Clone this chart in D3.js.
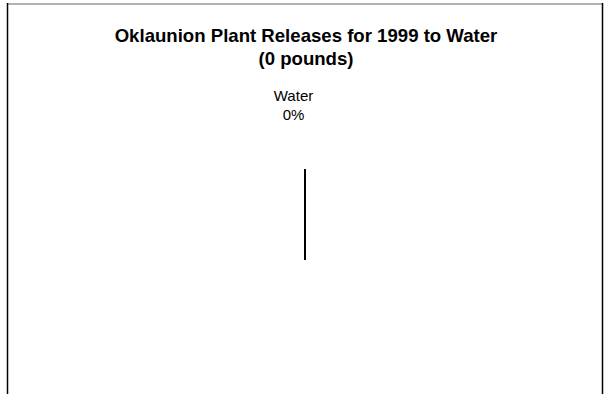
<!DOCTYPE html>
<html>
<head>
<meta charset="utf-8">
<script src="https://cdn.jsdelivr.net/npm/d3@7"></script>
<style>
  body { margin: 0; background: white; }
  text { font-family: "Liberation Sans", Arial, sans-serif; }
</style>
</head>
<body>
<script>
const categories = ['Water'];
const values = [0];
const pctLabels = ['0%'];
const titleLines = ['Oklaunion Plant Releases for 1999 to Water', '(0 pounds)'];

function main(){
    var width = 605;
    var height = 394;

    let svg = d3.select('body')
        .append('svg')
        .attr('width', width)
        .attr('height', height)
        .style('background-color', 'white');

    // frame: gray top, black sides
    svg.append('line')
        .attr('x1', 7).attr('x2', 603).attr('y1', 4).attr('y2', 4)
        .attr('stroke', '#999').attr('stroke-width', 1.5);
    svg.append('line')
        .attr('x1', 7.5).attr('x2', 7.5).attr('y1', 3).attr('y2', height)
        .attr('stroke', '#000').attr('stroke-width', 1.5);
    svg.append('line')
        .attr('x1', 602.5).attr('x2', 602.5).attr('y1', 3).attr('y2', height)
        .attr('stroke', '#000').attr('stroke-width', 1.5);

    svg.selectAll('.title')
        .data(titleLines)
        .enter()
        .append('text')
        .attr('class', 'title')
        .attr('x', 306)
        .attr('y', (d, i) => 42 + i * 23)
        .attr('text-anchor', 'middle')
        .attr('font-size', '18.6px')
        .attr('font-weight', 'bold')
        .text(d => d);

    const cx = 305, cy = 214.5, r = 45.5;
    const pie = d3.pie().sort(null).value(d => d);
    const arcs = pie(values);
    const rScale = d3.scaleLinear().domain([0, 1]).range([0, r]);

    const g = svg.append('g').attr('transform', `translate(${cx},${cy})`);

    // zero-value slice collapses to a stroke through the pie
    g.selectAll('line.slice')
        .data(arcs)
        .enter()
        .append('line')
        .attr('class', 'slice')
        .attr('x1', d => Math.sin(d.startAngle) * rScale(1))
        .attr('y1', d => -Math.cos(d.startAngle) * rScale(1))
        .attr('x2', d => -Math.sin(d.startAngle) * rScale(1))
        .attr('y2', d => Math.cos(d.startAngle) * rScale(1))
        .attr('stroke', '#000')
        .attr('stroke-width', 2);

    const labels = svg.selectAll('.lbl')
        .data(categories)
        .enter()
        .append('g')
        .attr('class', 'lbl');
    labels.append('text')
        .attr('x', 293.5)
        .attr('y', 101)
        .attr('text-anchor', 'middle')
        .attr('font-size', '15px')
        .text(d => d);
    labels.append('text')
        .attr('x', 293.5)
        .attr('y', 119.5)
        .attr('text-anchor', 'middle')
        .attr('font-size', '15px')
        .text((d, i) => pctLabels[i]);
}

main()
</script>
</body>
</html>
